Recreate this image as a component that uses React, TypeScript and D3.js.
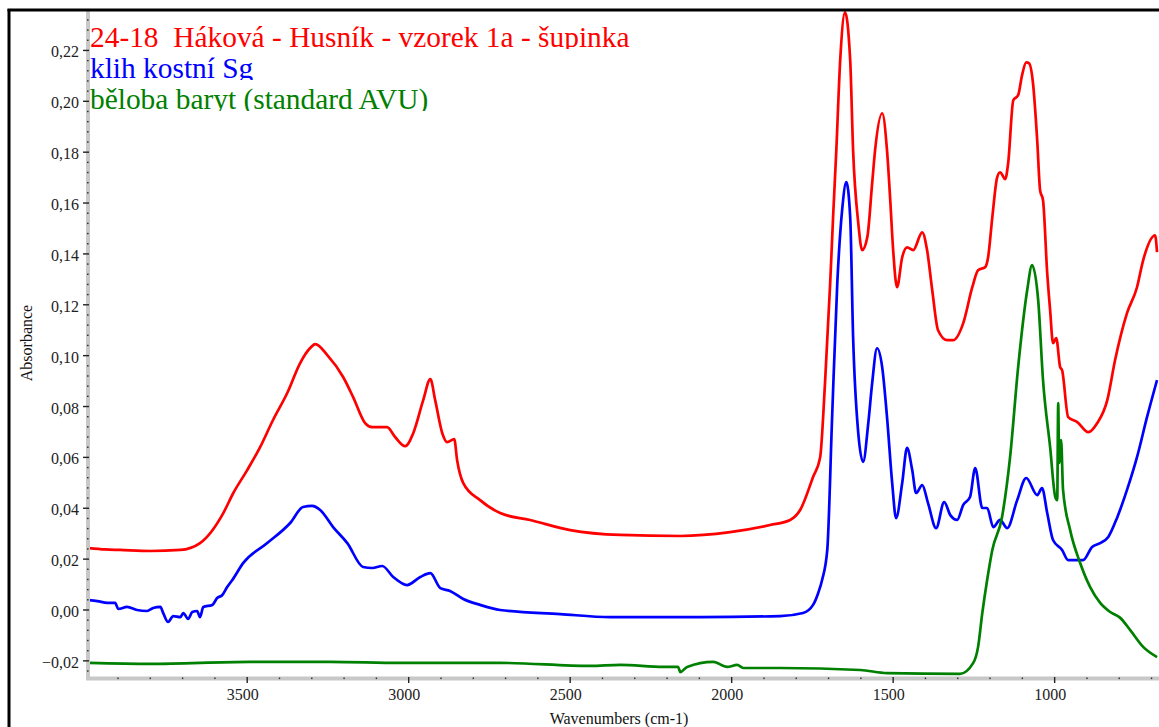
import React from 'react';
import * as d3 from 'd3';

const WIDTH = 1159;
const HEIGHT = 727;

// [wavenumber cm-1, absorbance]
const redSpectrum: [number, number][] = [
  [3995, 0.0244], [3940, 0.0238], [3893, 0.0236], [3800, 0.0232], [3707, 0.0236], [3646, 0.0263], [3574, 0.0381],
  [3543, 0.046], [3500, 0.055], [3460, 0.064], [3420, 0.0747], [3376, 0.0853], [3336, 0.0971],
  [3305, 0.103], [3289, 0.1045], [3252, 0.1002], [3203, 0.0916], [3172, 0.0837], [3135, 0.0735],
  [3113, 0.0719], [3067, 0.0719], [3042, 0.068], [3011, 0.0644], [2986, 0.0695], [2955, 0.0825],
  [2933, 0.0908], [2918, 0.0825], [2896, 0.0695], [2881, 0.066], [2859, 0.0672], [2850, 0.0589],
  [2831, 0.0499], [2779, 0.0432], [2717, 0.0381], [2624, 0.0354], [2500, 0.0314], [2345, 0.0295],
  [2159, 0.0291], [2005, 0.0306], [1881, 0.0334], [1819, 0.0354], [1788, 0.0393], [1748, 0.0523],
  [1726, 0.0601], [1711, 0.0892], [1695, 0.1285], [1686, 0.1544], [1676, 0.1807], [1664, 0.2161],
  [1649, 0.235], [1633, 0.2161], [1624, 0.1807], [1608, 0.1521], [1596, 0.1415], [1580, 0.1466],
  [1565, 0.1678], [1556, 0.1807], [1534, 0.1953], [1519, 0.1807], [1509, 0.1611], [1500, 0.1415],
  [1488, 0.1269], [1472, 0.1387], [1457, 0.1426], [1438, 0.1415], [1410, 0.1485], [1395, 0.1415],
  [1379, 0.1257], [1361, 0.11], [1333, 0.1061], [1314, 0.1061], [1283, 0.1128], [1255, 0.1269],
  [1237, 0.1336], [1215, 0.1348], [1206, 0.1387], [1193, 0.1544], [1178, 0.1701], [1169, 0.1721],
  [1153, 0.1694], [1144, 0.1756], [1128, 0.2004], [1113, 0.2024], [1101, 0.2102], [1088, 0.2153],
  [1079, 0.2149], [1067, 0.2071], [1054, 0.1847], [1045, 0.165], [1036, 0.1611], [1023, 0.1324],
  [1014, 0.1179], [1005, 0.1049], [995, 0.1069], [983, 0.0955], [977, 0.0943], [958, 0.0758],
  [930, 0.0739], [896, 0.0699], [868, 0.0735], [837, 0.0825], [813, 0.0982], [776, 0.1167],
  [745, 0.1269], [726, 0.1375], [689, 0.1473], [683, 0.1407],
];

const blueSpectrum: [number, number][] = [
  [3992, 0.0039], [3964, 0.0035], [3933, 0.0028], [3909, 0.0028], [3899, 0.0004], [3872, 0.0012],
  [3841, 0.0], [3810, -0.0004], [3791, 0.0008], [3769, 0.0012], [3760, -0.0012], [3745, -0.0047],
  [3729, -0.0024], [3707, -0.0028], [3698, -0.0012], [3683, -0.0035], [3670, -0.0008], [3655, -0.0004],
  [3646, -0.0028], [3636, 0.0012], [3608, 0.002], [3593, 0.0047], [3577, 0.0059], [3562, 0.009],
  [3546, 0.0118], [3512, 0.0185], [3438, 0.0263], [3367, 0.0342], [3327, 0.0405], [3299, 0.0409],
  [3274, 0.0393], [3234, 0.0326], [3190, 0.0263], [3141, 0.0169], [3113, 0.0165], [3082, 0.0173],
  [3048, 0.013], [3005, 0.0098], [2964, 0.013], [2933, 0.0145], [2902, 0.0086], [2872, 0.0075],
  [2831, 0.0043], [2779, 0.002], [2717, 0.0], [2531, -0.0016], [2376, -0.0028], [2098, -0.0028],
  [1850, -0.0024], [1779, -0.0012], [1748, 0.002], [1732, 0.0067], [1720, 0.0118], [1704, 0.0236],
  [1689, 0.0758], [1673, 0.1285], [1658, 0.1572], [1645, 0.1682], [1633, 0.1544], [1624, 0.1073],
  [1608, 0.0695], [1593, 0.0582], [1577, 0.0735], [1565, 0.0892], [1550, 0.1029], [1534, 0.0955],
  [1519, 0.0758], [1503, 0.0499], [1491, 0.0361], [1472, 0.0499], [1457, 0.0637], [1441, 0.055],
  [1429, 0.046], [1410, 0.0491], [1392, 0.042], [1367, 0.0322], [1342, 0.0424], [1323, 0.0373],
  [1302, 0.0354], [1283, 0.0413], [1262, 0.0444], [1246, 0.0558], [1224, 0.0401], [1209, 0.0401],
  [1190, 0.0326], [1169, 0.0354], [1147, 0.0322], [1116, 0.0432], [1088, 0.0519], [1054, 0.0452],
  [1039, 0.0479], [1023, 0.0381], [1005, 0.0275], [977, 0.0236], [958, 0.0196], [912, 0.0196],
  [884, 0.0248], [859, 0.0263], [834, 0.0287], [806, 0.0365], [776, 0.0472], [745, 0.0601],
  [714, 0.0758], [683, 0.0904],
];

const greenSpectrum: [number, number][] = [
  [3995, -0.0208], [3800, -0.0212], [3491, -0.0204], [3243, -0.0204], [3026, -0.0208], [2717, -0.0208],
  [2438, -0.022], [2345, -0.0216], [2212, -0.0224], [2166, -0.0224], [2159, -0.0244], [2138, -0.0224],
  [2057, -0.0204], [2014, -0.0224], [1983, -0.0216], [1964, -0.0228], [1850, -0.0228], [1602, -0.0236],
  [1519, -0.0248], [1293, -0.0251], [1252, -0.0208], [1237, -0.0145], [1224, -0.0012], [1209, 0.0118],
  [1193, 0.0236], [1163, 0.0365], [1138, 0.0601], [1113, 0.0955], [1085, 0.1257], [1070, 0.1356],
  [1051, 0.1218], [1036, 0.0904], [1014, 0.064], [998, 0.0444], [992, 0.0432], [989, 0.0813],
  [986, 0.0578], [980, 0.0668], [974, 0.0472], [952, 0.0314], [921, 0.0185], [890, 0.009],
  [859, 0.0028], [828, -0.0008], [797, -0.0031], [766, -0.0079], [726, -0.0145], [683, -0.0185],
];

const xMajorTicks = [3500, 3000, 2500, 2000, 1500, 1000];
const yMajorTicks = [-0.02, 0, 0.02, 0.04, 0.06, 0.08, 0.1, 0.12, 0.14, 0.16, 0.18, 0.2, 0.22];

const legendTexts = [
  '24-18  Háková - Husník - vzorek 1a - šupinka',
  'klih kostní Sg',
  'běloba baryt (standard AVU)',
];
const seriesColors = ['#ff0000', '#0000ff', '#008000'];

const xTitle = 'Wavenumbers (cm-1)';
const yTitle = 'Absorbance';

const FONT = "'Liberation Serif', 'Times New Roman', serif";

export default function App() {
  const left = 87, right = 1158, top = 10, bottom = 678;
  const x = d3.scaleLinear().domain([3996, 680]).range([left, right]);
  const y = d3.scaleLinear().domain([-0.02674, 0.2359]).range([bottom, top]);

  const line = d3
    .line<[number, number]>()
    .x((d) => x(d[0]))
    .y((d) => y(d[1]))
    .curve(d3.curveMonotoneX);

  const series = [redSpectrum, blueSpectrum, greenSpectrum];

  const xMinor = d3.range(3900, 650, -100).filter((v) => v % 500 !== 0);
  const yMinor = d3.range(-0.024, 0.234, 0.004).filter((v) => Math.abs(Math.round(v / 0.02) * 0.02 - v) > 1e-6);
  const fmt = d3.format('.2f');

  const baselines = [46.5, 77.5, 108.5];

  return (
    <svg
      width={WIDTH}
      height={HEIGHT}
      style={{ position: 'absolute', left: 0, top: 0, background: '#fff' }}
      fontFamily={FONT}
    >
      <defs>
        <clipPath id="plotClip">
          <rect x={89} y={11} width={WIDTH - 89} height={676 - 11} />
        </clipPath>
        {baselines.map((b, i) => (
          <clipPath id={`legClip${i}`} key={i}>
            <rect x={88} y={b - 31} width={700} height={33.5} />
          </clipPath>
        ))}
      </defs>
      <rect x={0} y={0} width={WIDTH} height={HEIGHT} fill="#fff" />

      <g clipPath="url(#plotClip)">
        {series.map((s, i) => (
          <path
            key={i}
            d={line(s) || ''}
            fill="none"
            stroke={seriesColors[i]}
            strokeWidth={2.7}
            strokeLinejoin="round"
          />
        ))}
      </g>

      {/* axis bands */}
      <rect x={86} y={10} width={4} height={670} fill="#c8c8c8" />
      <rect x={86} y={676.5} width={WIDTH - 86} height={4} fill="#c8c8c8" />

      {/* y ticks */}
      {yMajorTicks.map((t) => (
        <g key={`ym${t}`}>
          <line x1={83} x2={89} y1={y(t)} y2={y(t)} stroke="#222" strokeWidth={1.4} />
          <text
            x={79}
            y={y(t) + 7}
            textAnchor="end"
            fontSize={16}
            fontFamily={FONT}
            fill="#222"
          >
            {fmt(t).replace('.', ',')}
          </text>
        </g>
      ))}
      {yMinor.map((t) => (
        <rect key={`yn${t}`} x={87} y={y(t) - 0.7} width={1.6} height={1.4} fill="#333" />
      ))}

      {/* x ticks */}
      {xMajorTicks.map((t) => (
        <g key={`xm${t}`}>
          <line x1={x(t)} x2={x(t)} y1={677} y2={683} stroke="#222" strokeWidth={1.4} />
          <text x={x(t) - 4.5} y={700} textAnchor="middle" fontSize={16} fontFamily={FONT} fill="#222">
            {t}
          </text>
        </g>
      ))}
      {xMinor.map((t) => (
        <rect key={`xn${t}`} x={x(t) - 0.7} y={677.5} width={1.4} height={1.6} fill="#333" />
      ))}

      {/* axis titles */}
      <text x={619} y={724} textAnchor="middle" fontSize={16} fontFamily={FONT} fill="#111">
        {xTitle}
      </text>
      <text
        transform={`translate(31.5, 343) rotate(-90)`}
        textAnchor="middle"
        fontSize={16}
        fontFamily={FONT}
        fill="#111"
      >
        {yTitle}
      </text>

      {/* legend */}
      {legendTexts.map((t, i) => (
        <text
          key={i}
          x={90}
          y={baselines[i]}
          fontSize={29.4}
          fontFamily={FONT}
          fill={seriesColors[i]}
          clipPath={`url(#legClip${i})`}
          style={{ whiteSpace: 'pre' }}
        >
          {t}
        </text>
      ))}

      {/* frame */}
      <line x1={9} y1={9} x2={9} y2={HEIGHT} stroke="#000" strokeWidth={3} />
      <line x1={7.5} y1={10} x2={WIDTH} y2={10} stroke="#000" strokeWidth={3} />
    </svg>
  );
}
